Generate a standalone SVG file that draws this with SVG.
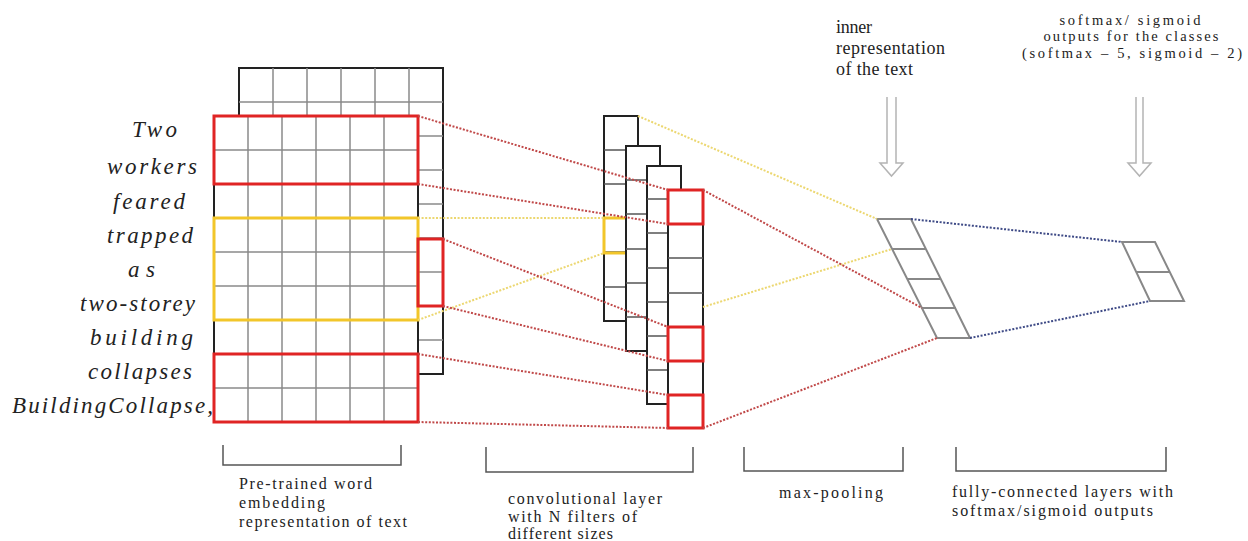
<svg xmlns="http://www.w3.org/2000/svg" width="1248" height="541" viewBox="0 0 1248 541">
<style>
.word{font-family:"Liberation Serif","Times New Roman",serif;font-style:italic;font-size:23px;fill:#222}
.lbl{font-family:"Liberation Serif","Times New Roman",serif;font-size:16px;fill:#222}
.inl{font-family:"Liberation Serif","Times New Roman",serif;font-size:18px;fill:#222}
.top{font-family:"Liberation Serif","Times New Roman",serif;font-size:14.5px;fill:#222}
.outer{fill:#fff;stroke:#222;stroke-width:2}
.inner{stroke:#8a8a8a;stroke-width:1.5;fill:none}
.cell{stroke:#555;stroke-width:1.5;fill:none}
.red{fill:none;stroke:#e02424;stroke-width:3}
.yel{fill:none;stroke:#f2c62a;stroke-width:3}
.gshape{fill:#fff;stroke:#888;stroke-width:2}
.bracket{fill:none;stroke:#555;stroke-width:1.5}
.hollow{fill:none;stroke:#b4b4b4;stroke-width:1.5}
.dr{stroke:#c04848;stroke-width:2;stroke-dasharray:2 1.6;fill:none}
.dy{stroke:#ecd770;stroke-width:2;stroke-dasharray:2 1.6;fill:none}
.db{stroke:#3e4a86;stroke-width:2;stroke-dasharray:2 1.6;fill:none}
</style>

<g id="words">
<text class="word" x="132" y="137" textLength="45" lengthAdjust="spacing">Two</text>
<text class="word" x="107" y="174" textLength="90" lengthAdjust="spacing">workers</text>
<text class="word" x="113" y="209" textLength="72" lengthAdjust="spacing">feared</text>
<text class="word" x="107" y="243" textLength="86" lengthAdjust="spacing">trapped</text>
<text class="word" x="128" y="277" textLength="27" lengthAdjust="spacing">as</text>
<text class="word" x="80" y="311" textLength="115" lengthAdjust="spacing">two-storey</text>
<text class="word" x="90" y="345" textLength="103" lengthAdjust="spacing">building</text>
<text class="word" x="88" y="379" textLength="104" lengthAdjust="spacing">collapses</text>
<text class="word" x="12" y="413" textLength="201" lengthAdjust="spacing">BuildingCollapse,</text>
</g>

<g id="embedding-back">
<rect class="outer" x="239" y="68" width="204" height="306"/>
<path class="inner" d="M273 68V374M307 68V374M341 68V374M375 68V374M409 68V374M239 102H443M239 136H443M239 170H443M239 204H443M239 238H443M239 272H443M239 306H443M239 340H443"/>
</g>

<g id="embedding-front">
<rect class="outer" x="214" y="116" width="204" height="306"/>
<path class="inner" d="M248 116V422M282 116V422M316 116V422M350 116V422M384 116V422M214 150H418M214 184H418M214 218H418M214 252H418M214 286H418M214 320H418M214 354H418M214 388H418"/>
<rect class="red" x="214" y="116" width="204" height="68"/>
<rect class="yel" x="214" y="218" width="204" height="102"/>
<rect class="red" x="214" y="354" width="204" height="68"/>
<rect class="red" x="418" y="239" width="25" height="67"/>
</g>

<g id="conv-filter-1">
<rect class="outer" x="604" y="116" width="34" height="205"/>
<path class="cell" d="M604 150H638M604 184H638M604 252H638M604 287H638"/>
<rect class="yel" x="604" y="218" width="34" height="35"/>
</g>
<g id="conv-filter-2">
<rect class="outer" x="626" y="146" width="34" height="205"/>
<path class="cell" d="M626 180H660M626 214H660M626 249H660M626 283H660M626 317H660"/>
</g>
<g id="conv-filter-3">
<rect class="outer" x="647" y="166" width="34" height="238"/>
<path class="cell" d="M647 199H681M647 233H681M647 268H681M647 302H681M647 336H681M647 370H681"/>
</g>
<g id="conv-filter-4">
<rect class="outer" x="668" y="190" width="35" height="238"/>
<path class="cell" d="M668 224H703M668 258H703M668 293H703M668 327H703M668 361H703M668 395H703"/>
<rect class="red" x="668" y="190" width="35" height="34"/>
<rect class="red" x="668" y="327" width="35" height="34"/>
<rect class="red" x="668" y="395" width="35" height="33"/>
</g>

<g id="max-pooling">
<polygon class="gshape" points="877,219 911,219 970,338 937,338"/>
<path class="gshape" d="M892 249H926M907 279H941M922 308H956"/>
</g>

<g id="fully-connected">
<polygon class="gshape" points="1122,242 1155,242 1184,301 1150,301"/>
<path class="gshape" d="M1136 272H1170"/>
</g>

<g id="connectors">
<line class="dr" x1="418" y1="116" x2="668" y2="190"/>
<line class="dr" x1="418" y1="184" x2="668" y2="224"/>
<line class="dy" x1="418" y1="218" x2="604" y2="218"/>
<line class="dy" x1="418" y1="320" x2="604" y2="253"/>
<line class="dr" x1="443" y1="239" x2="668" y2="327"/>
<line class="dr" x1="443" y1="306" x2="668" y2="361"/>
<line class="dr" x1="418" y1="354" x2="668" y2="395"/>
<line class="dr" x1="418" y1="422" x2="668" y2="428"/>
<line class="dy" x1="638" y1="116" x2="877" y2="219"/>
<line class="dy" x1="703" y1="307" x2="892" y2="249"/>
<line class="dr" x1="703" y1="190" x2="922" y2="308"/>
<line class="dr" x1="703" y1="428" x2="937" y2="338"/>
<line class="db" x1="911" y1="219" x2="1122" y2="242"/>
<line class="db" x1="970" y1="338" x2="1150" y2="301"/>
<polyline class="hollow" points="887,97 887,163 880,163 891.5,176 903,163 896,163 896,97"/>
<polyline class="hollow" points="1136,97 1136,163 1128,163 1139.5,176 1151,163 1143,163 1143,97"/>
</g>

<g id="top-labels">
<text class="inl" x="836" y="33" textLength="36" lengthAdjust="spacing">inner</text>
<text class="inl" x="836" y="54" textLength="109" lengthAdjust="spacing">representation</text>
<text class="inl" x="836" y="75" textLength="77" lengthAdjust="spacing">of the text</text>
<text class="top" x="1130" y="25" text-anchor="middle" textLength="141" lengthAdjust="spacing">softmax/ sigmoid</text>
<text class="top" x="1131" y="41" text-anchor="middle" textLength="175" lengthAdjust="spacing">outputs for the classes</text>
<text class="top" x="1132" y="58" text-anchor="middle" textLength="220" lengthAdjust="spacing">(softmax – 5, sigmoid – 2)</text>
</g>

<g id="bottom-labels">
<path class="bracket" d="M223 445V465H401V445"/>
<path class="bracket" d="M486 447V472H693V447"/>
<path class="bracket" d="M744 447V471H903V447"/>
<path class="bracket" d="M956 447V471H1166V447"/>
<text class="lbl" x="239" y="489" textLength="133" lengthAdjust="spacing">Pre-trained word</text>
<text class="lbl" x="239" y="508" textLength="86" lengthAdjust="spacing">embedding</text>
<text class="lbl" x="239" y="527" textLength="168" lengthAdjust="spacing">representation of text</text>
<text class="lbl" x="508" y="504" textLength="154" lengthAdjust="spacing">convolutional layer</text>
<text class="lbl" x="508" y="521.5" textLength="129" lengthAdjust="spacing">with N filters of</text>
<text class="lbl" x="508" y="538.5" textLength="105" lengthAdjust="spacing">different sizes</text>
<text class="lbl" x="779" y="498" textLength="104" lengthAdjust="spacing">max-pooling</text>
<text class="lbl" x="952" y="497" textLength="221" lengthAdjust="spacing">fully-connected layers with</text>
<text class="lbl" x="952" y="516" textLength="201" lengthAdjust="spacing">softmax/sigmoid outputs</text>
</g>
</svg>
